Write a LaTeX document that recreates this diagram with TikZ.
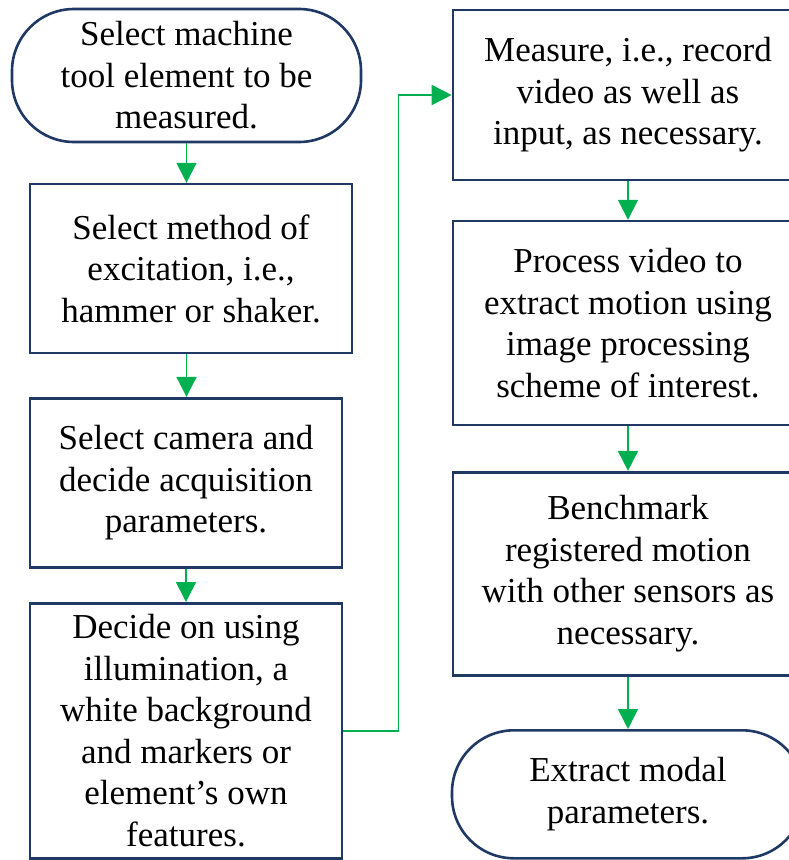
\documentclass[tikz,border=0pt]{standalone}
\usepackage{fontspec}
\setmainfont{Liberation Serif}
\usetikzlibrary{arrows.meta, positioning}

\definecolor{boxnavy}{HTML}{203864}
\definecolor{flowgreen}{HTML}{00B050}

\begin{document}
\begin{tikzpicture}[x=1pt, y=1pt,
    >={Triangle[length=20pt, width=20pt]},
    stepbox/.style={draw=boxnavy, line width=2.6pt, fill=white, align=center,
        inner sep=0pt, font=\fontsize{35}{41.5}\selectfont},
    terminal/.style={stepbox, rounded corners=62pt},
    flow/.style={->, color=flowgreen, line width=1.6pt}]
    \useasboundingbox (0,0) rectangle (789,-860);
    \clip (0,0) rectangle (789,-860);

    %define left column
    \node[terminal, minimum width=349pt, minimum height=133pt] (t1) at (186.5,-75.5)
        {Select machine\\tool element to be\\measured.};
    \node[stepbox, minimum width=322pt, minimum height=169pt, xshift=4.5pt] (s2) [below=39.5pt of t1]
        {Select method of\\excitation, i.e.,\\hammer or shaker.};
    \node[stepbox, minimum width=312pt, minimum height=169pt, xshift=-5pt] (s3) [below=42.5pt of s2]
        {Select camera and\\decide acquisition\\parameters.};
    \node[stepbox, minimum width=312pt, minimum height=255pt] (s4) [below=33.5pt of s3]
        {Decide on using\\illumination, a\\white background\\and markers or\\element’s own\\features.};

    %define right column
    \node[stepbox, minimum width=350pt, minimum height=170pt] (s5) at (628,-95)
        {Measure, i.e., record\\video as well as\\input, as necessary.};
    \node[stepbox, minimum width=350pt, minimum height=204pt] (s6) [below=38.5pt of s5]
        {Process video to\\extract motion using\\image processing\\scheme of interest.};
    \node[stepbox, minimum width=350pt, minimum height=203pt] (s7) [below=44.5pt of s6]
        {Benchmark\\registered motion\\with other sensors as\\necessary.};
    \node[terminal, minimum width=352pt, minimum height=128pt] (t2) [below=52.5pt of s7]
        {Extract modal\\parameters.};

    %define the links
    \draw[flow] (t1.south) -- (t1.south |- s2.north);
    \draw[flow] (t1.south |- s2.south) -- (t1.south |- s3.north);
    \draw[flow] (s3.south) -- (s4.north);
    \draw[flow] (s5.south) -- (s6.north);
    \draw[flow] (s6.south) -- (s7.north);
    \draw[flow] (s7.south) -- (t2.north);
    \draw[flow] (s4.east) -- ++(55pt,0) |- (s5.west);
\end{tikzpicture}
\end{document}
